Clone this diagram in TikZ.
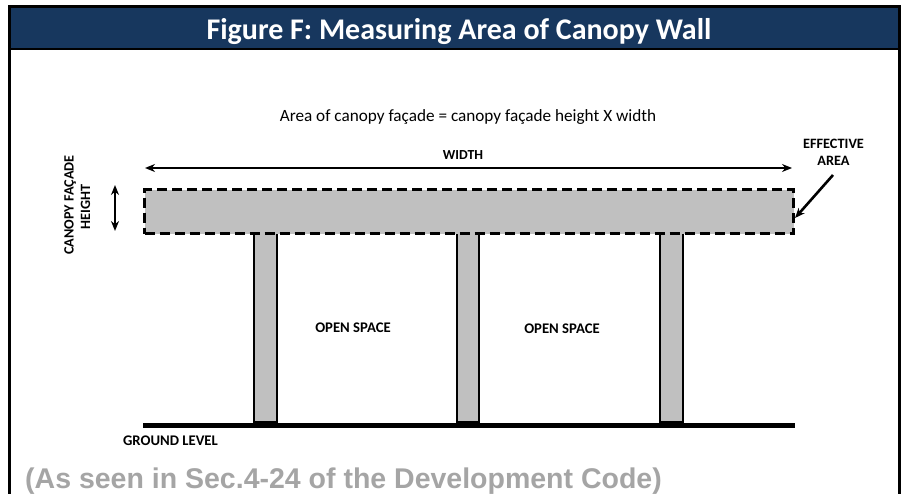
\documentclass[tikz,border=0pt]{standalone}
\usepackage{fontspec}
\setmainfont{Carlito}
\newfontfamily\arialf{Liberation Sans}
\usetikzlibrary{arrows.meta}
\definecolor{navy}{HTML}{17375E}
\definecolor{canopygray}{HTML}{C0C0C0}
\definecolor{footgray}{HTML}{A5A5A5}
\tikzset{
  titletext/.style={text=white,font=\fontsize{30}{34}\selectfont\bfseries,inner sep=0,anchor=base},
  smalllabel/.style={font=\fontsize{14.5}{17}\selectfont\bfseries,inner sep=0,anchor=base},
  column/.style={draw=black,line width=2.7pt,fill=canopygray,inner sep=0,minimum height=190pt},
  canopybox/.style={draw=black,line width=3.2pt,dash pattern=on 10pt off 5pt,fill=canopygray,inner sep=0,minimum width=649pt,minimum height=44pt},
  dimarrow/.style={line width=2.6pt,{Stealth[length=10pt,width=8pt]}-{Stealth[length=10pt,width=8pt]}},
  pointer/.style={line width=2.6pt,-{Stealth[length=10pt,width=8pt]}},
}
\begin{document}
\begin{tikzpicture}[x=1pt,y=-1pt]
\useasboundingbox (0,0) rectangle (901,494);
\fill[white] (0,0) rectangle (901,494);
% frame and header
\fill[navy] (9,7) rectangle (899,49);
\draw[line width=3pt] (9,494) -- (9,6.5) -- (899.5,6.5) -- (899.5,494);
\draw[line width=2pt] (9,49) -- (899.5,49);
\node[titletext] (title) at (459,40) {Figure F: Measuring Area of Canopy Wall};
% formula
\node[font=\fontsize{17.2}{20}\selectfont,inner sep=0,anchor=base] (formula) at (468,122) {Area of canopy façade = canopy façade height X width};
% width
\node[smalllabel,font=\fontsize{13.8}{16}\selectfont\bfseries] (wlabel) at (463,160) {WIDTH};
\coordinate (wl) at (145,168);
\coordinate (wr) at (792,168);
\draw[dimarrow] (wl) -- (wr);
% columns
\node[column,minimum width=23pt] (col1) at (265.5,327) {};
\node[column,minimum width=22pt] (col2) at (468,327) {};
\node[column,minimum width=23pt] (col3) at (671.5,327) {};
% canopy
\node[canopybox,anchor=north west] (canopy) at (143,188) {};
% height dimension
\coordinate (ht) at (115,185);
\coordinate (hb) at (115,231);
\draw[dimarrow] (ht) -- (hb);
\node[smalllabel,font=\fontsize{14.2}{16}\selectfont\bfseries,rotate=90] (hlabel1) at (73.5,205) {CANOPY FAÇADE};
\node[smalllabel,font=\fontsize{14.2}{16}\selectfont\bfseries,rotate=90] (hlabel2) at (90,207) {HEIGHT};
% effective area
\node[smalllabel,font=\fontsize{14.3}{16}\selectfont\bfseries] (eff1) at (833.5,148.5) {EFFECTIVE};
\node[smalllabel,font=\fontsize{14.3}{16}\selectfont\bfseries] (eff2) at (833.5,166) {AREA};
\coordinate (effstart) at (833,175);
\coordinate (efftip) at (795,218);
\draw[pointer] (effstart) -- (efftip);
% ground
\coordinate (g1) at (143,425);
\coordinate (g2) at (795,425);
\draw[line width=5pt] (g1) -- (g2);
% labels
\node[smalllabel,font=\fontsize{14.7}{17}\selectfont\bfseries] (os1) at (353,332) {OPEN SPACE};
\node[smalllabel,font=\fontsize{14.7}{17}\selectfont\bfseries] (os2) at (562,333) {OPEN SPACE};
\node[smalllabel,font=\fontsize{14.7}{17}\selectfont\bfseries] (ground) at (170.5,445) {GROUND LEVEL};
\node[anchor=base west,inner sep=0,text=footgray,font=\arialf\fontsize{28.5}{32}\selectfont\bfseries] (foot) at (25,488) {(As seen in Sec.4-24 of the Development Code)};
\end{tikzpicture}
\end{document}
